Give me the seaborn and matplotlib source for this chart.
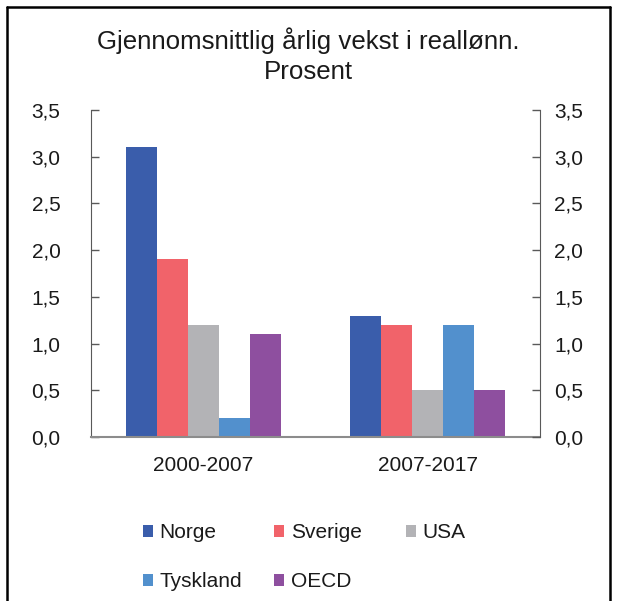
import numpy as np
import pandas as pd
import matplotlib
matplotlib.use('Agg')
import matplotlib.pyplot as plt
import seaborn as sns
from matplotlib.lines import Line2D
from matplotlib.patches import Patch

periods = ['2000-2007', '2007-2017']
countries = ['Norge', 'Sverige', 'USA', 'Tyskland', 'OECD']
values = {
    'Norge': [3.1, 1.3],
    'Sverige': [1.9, 1.2],
    'USA': [1.2, 0.5],
    'Tyskland': [0.2, 1.2],
    'OECD': [1.1, 0.5],
}
colors = ['#3A5DAB', '#F1636A', '#B3B3B6', '#5290CD', '#8E4F9F']
yticks = [0.0, 0.5, 1.0, 1.5, 2.0, 2.5, 3.0, 3.5]
ytick_labels = ['0,0', '0,5', '1,0', '1,5', '2,0', '2,5', '3,0', '3,5']

rows = []
for c in countries:
    for p, v in zip(periods, values[c]):
        rows.append({'periode': p, 'land': c, 'verdi': v})
df = pd.DataFrame(rows)

sns.set_style('white')
plt.rcParams['font.family'] = ['Liberation Sans', 'DejaVu Sans']
text_col = '#1a1a1a'

fig = plt.figure(figsize=(6.17, 6.01), dpi=100)
ax = fig.add_axes([91/617, 1-437/601, (540-91)/617, (437-110)/601])

sns.barplot(data=df, x='periode', y='verdi', hue='land', hue_order=countries,
            palette=colors, width=0.69, linewidth=0, saturation=1, ax=ax, legend=False)

ax.set_xlim(-0.5, 1.5)
ax.set_ylim(0, 3.5)
ax.set_xlabel('')
ax.set_ylabel('')
ax.set_yticks(yticks)
ax.set_yticklabels(ytick_labels)
ax.tick_params(axis='y', direction='in', length=6, width=1, color='#595959',
               labelsize=15, pad=22, labelcolor=text_col)
ax.tick_params(axis='x', length=0, labelsize=15, pad=14, labelcolor=text_col)

for s in ['top', 'right']:
    ax.spines[s].set_visible(False)
ax.spines['left'].set_color('#595959')
ax.spines['bottom'].set_color('#8c8c8c')
ax.spines['bottom'].set_linewidth(1.5)

ax2 = ax.twinx()
ax2.set_ylim(0, 3.5)
ax2.set_yticks(yticks)
ax2.set_yticklabels(ytick_labels)
ax2.tick_params(axis='y', direction='in', length=6, width=1, color='#595959',
                labelsize=15, pad=10, labelcolor=text_col)
for s in ['top', 'left', 'bottom']:
    ax2.spines[s].set_visible(False)
ax2.spines['right'].set_color('#595959')

fig.text(0.5, 1-56/601, 'Gjennomsnittlig årlig vekst i reallønn.\nProsent',
         ha='center', va='center', fontsize=18.6, linespacing=1.32, color=text_col)

# legend in three fixed-width columns
handles = {c: Patch(facecolor=col, edgecolor='none') for c, col in zip(countries, colors)}
columns = [['Norge', 'Tyskland'], ['Sverige', 'OECD'], ['USA']]
col_x = [143, 274, 406]
for names, x in zip(columns, col_x):
    fig.legend([handles[n] for n in names], names, loc='upper left',
               bbox_to_anchor=(x/617, 1-523/601), frameon=False, fontsize=15,
               borderpad=0, borderaxespad=0, handlelength=0.5, handleheight=0.5,
               handletextpad=0.3, labelspacing=1.45, labelcolor=text_col)

# outer frame (left, top, right)
frame_kw = dict(color='black', linewidth=1.8, transform=fig.transFigure)
fig.add_artist(Line2D([7/617, 7/617], [0, 1-7/601], **frame_kw))
fig.add_artist(Line2D([7/617, 610/617], [1-7/601, 1-7/601], **frame_kw))
fig.add_artist(Line2D([610/617, 610/617], [0, 1-7/601], **frame_kw))

fig.savefig('out.png', dpi=100)
